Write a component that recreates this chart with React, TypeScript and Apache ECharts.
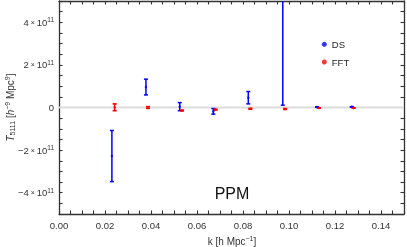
import React, { useEffect, useRef } from 'react';
import * as echarts from 'echarts';

// DS estimator (blue)
const dsK = [0.023, 0.0378, 0.0525, 0.0671, 0.0823, 0.0973, 0.1122, 0.1273];
const dsValue = [-2.28e11, 0.96e11, 0.04e11, -0.18e11, 0.46e11, 6.0e11, 0.02e11, 0.03e11];
const dsError = [1.2e11, 0.37e11, 0.19e11, 0.13e11, 0.29e11, 5.89e11, 0.01e11, 0.01e11];

// FFT estimator (red)
const fftK = [0.0242, 0.0387, 0.0535, 0.0681, 0.0832, 0.0983, 0.113, 0.1281];
const fftValue = [0.01e11, 0.0, -0.14e11, -0.1e11, -0.06e11, -0.07e11, -0.02e11, -0.02e11];
const fftError = [0.16e11, 0.04e11, 0.02e11, 0.02e11, 0.02e11, 0.02e11, 0.01e11, 0.01e11];

const xMin = 0;
const xMax = 0.15;
const yMin = -5e11;
const yMax = 5e11;
const xLabelStep = 0.02;
const yLabelStep = 2e11;

const FONT = 'Liberation Sans, Arial, sans-serif';
const BLUE = '#0000ff';
const RED = '#ff0000';
const FRAME = '#333333';
const LABEL = '#333333';

function errorRender(color: string, lw: number, cap: number) {
  return (params: any, api: any) => {
    const x = api.value(0);
    const y = api.value(1);
    const e = api.value(2);
    const top = api.coord([x, y + e]);
    const bot = api.coord([x, y - e]);
    const style = { stroke: color, lineWidth: lw };
    return {
      type: 'group',
      children: [
        { type: 'line', shape: { x1: top[0], y1: top[1], x2: bot[0], y2: bot[1] }, style },
        { type: 'line', shape: { x1: top[0] - cap, y1: top[1], x2: top[0] + cap, y2: top[1] }, style },
        { type: 'line', shape: { x1: bot[0] - cap, y1: bot[1], x2: bot[0] + cap, y2: bot[1] }, style },
      ],
    };
  };
}

function xLabel(v: number) {
  const m = Math.round(v * 1000);
  const step = Math.round(xLabelStep * 1000);
  if (m % step !== 0 || v > xMax - 1e-9) return '';
  return v.toFixed(2);
}

function yLabel(v: number) {
  const half = Math.round(v / 5e10);
  const stepHalf = Math.round(yLabelStep / 5e10);
  if (half % stepHalf !== 0) return '';
  const u = half / 2;
  if (u === 0) return '0';
  return `${u < 0 ? '−' : ''}${Math.abs(u)}{x| × }10{sup|11}`;
}

const tickStyle = { inside: true, length: 3.5, lineStyle: { color: FRAME, width: 1.1 } };
const lineStyle = { show: true, onZero: false, lineStyle: { color: FRAME, width: 1.3 } };

export default function App() {
  const ref = useRef<HTMLDivElement>(null);
  useEffect(() => {
    if (!ref.current) return;
    const chart = echarts.init(ref.current, undefined, { renderer: 'svg' });
    const xBase = { type: 'value', min: xMin, max: xMax, interval: 0.005, splitLine: { show: false }, axisLine: lineStyle, axisTick: tickStyle };
    const yBase = { type: 'value', min: yMin, max: yMax, interval: 0.5e11, splitLine: { show: false }, axisLine: lineStyle, axisTick: tickStyle };
    chart.setOption({
      animation: false,
      grid: { left: 59, right: 3, top: 1, bottom: 33 },
      xAxis: [
        {
          ...xBase,
          position: 'bottom',
          axisLabel: { formatter: xLabel, fontSize: 9.5, color: LABEL, fontFamily: FONT, margin: 6 },
        },
        { ...xBase, position: 'top', axisLabel: { show: false } },
      ],
      yAxis: [
        {
          ...yBase,
          position: 'left',
          axisLabel: {
            formatter: yLabel,
            fontSize: 9.5,
            color: LABEL,
            fontFamily: FONT,
            margin: 5,
            rich: {
              x: { fontSize: 7, color: LABEL, fontFamily: FONT },
              sup: { fontSize: 6.5, color: LABEL, fontFamily: FONT, padding: [0, 0, 5, 0] },
            },
          },
        },
        { ...yBase, position: 'right', axisLabel: { show: false } },
      ],
      legend: {
        data: [
          { name: 'DS', icon: 'circle' },
          { name: 'FFT', icon: 'circle' },
        ],
        orient: 'vertical',
        left: 321.8,
        top: 38.3,
        itemWidth: 5,
        itemHeight: 5,
        itemGap: 5.7,
        padding: 0,
        textStyle: { fontSize: 9.5, lineHeight: 12, color: '#222', fontFamily: FONT },
      },
      graphic: [
        {
          type: 'text',
          x: 10,
          y: 107.5,
          rotation: Math.PI / 2,
          style: {
            text: '{it|T}{sub|5111} [{it|h}{sup|−9} Mpc{sup|9}]',
            align: 'center',
            verticalAlign: 'middle',
            fill: LABEL,
            font: `10px ${FONT}`,
            rich: {
              it: { fontStyle: 'italic', fontSize: 10, fontFamily: FONT, fill: LABEL },
              sub: { fontSize: 7, fontFamily: FONT, fill: LABEL, padding: [4, 0, 0, 0] },
              sup: { fontSize: 7, fontFamily: FONT, fill: LABEL, padding: [0, 0, 5, 0] },
            },
          },
        },
        {
          type: 'text',
          x: 232,
          y: 241,
          style: {
            text: 'k [h Mpc{sup|−1}]',
            align: 'center',
            verticalAlign: 'middle',
            fill: LABEL,
            font: `10px ${FONT}`,
            rich: {
              sup: { fontSize: 7, fontFamily: FONT, fill: LABEL, padding: [0, 0, 5, 0] },
            },
          },
        },
        {
          type: 'text',
          x: 232,
          y: 193,
          style: {
            text: 'PPM',
            align: 'center',
            verticalAlign: 'middle',
            fill: '#111',
            font: `16px ${FONT}`,
          },
        },
      ],
      series: [
        {
          type: 'line',
          data: [[xMin, 0], [xMax, 0]],
          symbol: 'none',
          silent: true,
          lineStyle: { color: '#dcdcdc', width: 2 },
          z: 1,
        },
        {
          type: 'custom',
          name: 'DS err',
          clip: true,
          renderItem: errorRender(BLUE, 1.5, 2),
          data: dsK.map((k, i) => [k, dsValue[i], dsError[i]]),
          encode: { x: 0, y: 1 },
          z: 3,
        },
        {
          type: 'custom',
          name: 'FFT err',
          clip: true,
          renderItem: errorRender(RED, 1.6, 2),
          data: fftK.map((k, i) => [k, fftValue[i], fftError[i]]),
          encode: { x: 0, y: 1 },
          z: 4,
        },
        {
          type: 'scatter',
          name: 'DS',
          data: dsK.map((k, i) => [k, dsValue[i]]),
          symbolSize: 2.5,
          itemStyle: { color: BLUE },
          clip: true,
          z: 5,
        },
        {
          type: 'scatter',
          name: 'FFT',
          data: fftK.map((k, i) => [k, fftValue[i]]),
          symbolSize: 2.5,
          itemStyle: { color: RED },
          clip: true,
          z: 6,
        },
      ],
    });
    return () => chart.dispose();
  }, []);
  return <div ref={ref} style={{ position: 'fixed', left: 0, top: 0, width: 407, height: 247 }} />;
}
